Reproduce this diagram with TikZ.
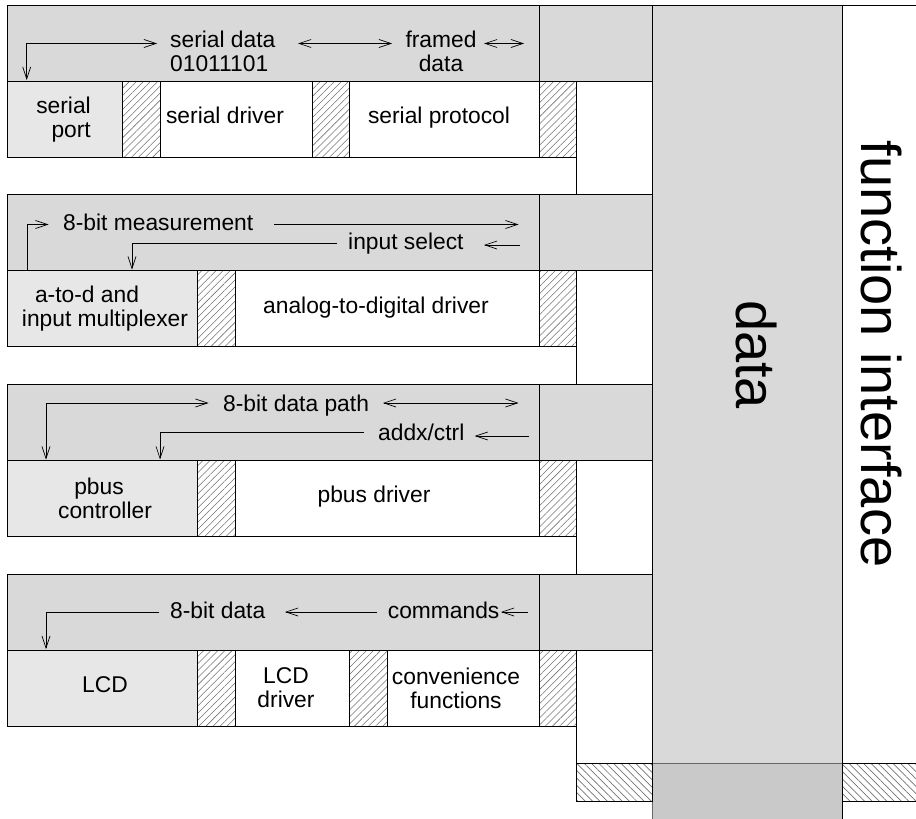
\documentclass[tikz,border=0pt]{standalone}
\usepackage{fontspec}
\setmainfont{Liberation Sans}
\usetikzlibrary{arrows.meta,patterns.meta}
\definecolor{hdr}{gray}{0.85}
\definecolor{lbox}{gray}{0.905}
\definecolor{dark}{gray}{0.79}
\definecolor{hatchc}{gray}{0.45}
\tikzset{
  nw/.style={inner sep=0pt, outer sep=0pt, anchor=north west, line width=0.8pt},
  hdrL/.style={nw, draw, fill=hdr, minimum height=76pt},
  lbox/.style={nw, draw, fill=lbox, minimum height=76pt},
  wbox/.style={nw, draw, fill=white, minimum height=76pt},
  hbox/.style={nw, draw, pattern={Lines[angle=45,distance=5pt,line width=0.55pt]}, pattern color=hatchc, minimum height=76pt},
  bighatch/.style={nw, draw, pattern={Lines[angle=-45,distance=5.2pt,line width=0.7pt]}, pattern color=hatchc, minimum height=38pt},
  lbl/.style={inner sep=0pt, font=\fontsize{22.8}{24}\selectfont},
  big/.style={inner sep=0pt, rotate=-90, anchor=base, font=\fontsize{56}{60}\selectfont},
  conn/.style={line width=0.7pt, -{Straight Barb[length=12pt,width=8pt,line width=0.7pt]}},
  dconn/.style={line width=0.7pt, {Straight Barb[length=12pt,width=8pt,line width=0.7pt]}-{Straight Barb[length=12pt,width=8pt,line width=0.7pt]}},
}
\begin{document}
\begin{tikzpicture}[x=1pt,y=-1pt]
\useasboundingbox (0,0) rectangle (916,819);
% vertical line of the white column
\coordinate (v1) at (576,81);
\coordinate (v2) at (576,763);
\draw[line width=0.8pt] (v1) -- (v2);
% data column and function interface
\node[nw, draw, fill=hdr, minimum width=190pt, minimum height=758pt] (dcol) at (652,5) {};
\node[nw, draw=black!60, fill=dark, minimum width=190pt, minimum height=70pt] (dlow) at (652,763) {};
\node[nw, draw, minimum width=100pt, minimum height=830pt] (fi) at (842,5) {};
\node[bighatch, minimum width=76pt] (hl) at (576,763) {};
\node[bighatch, minimum width=90pt] (hr) at (842,763) {};
\node[big] (dtxt) at (736,354.5) {data};
\node[big] (fitxt) at (861,354) {function interface};

% ---------- block 1 ----------
\node[hdrL, minimum width=532pt] (h1) at (7,5) {};
\node[hdrL, minimum width=113pt] (h1r) at (539,5) {};
\node[lbox, minimum width=115pt] (b1a) at (7,81) {};
\node[hbox, minimum width=38pt] (b1h1) at (122,81) {};
\node[wbox, minimum width=152pt] (b1b) at (160,81) {};
\node[hbox, minimum width=37pt] (b1h2) at (312,81) {};
\node[wbox, minimum width=190pt] (b1c) at (349,81) {};
\node[hbox, minimum width=37pt] (b1h3) at (539,81) {};
\node[lbl, align=right, anchor=east] (t1a) at (91,120) {serial\\port};
\node[lbl, anchor=mid] (t1b) at (225,121) {serial driver};
\node[lbl, anchor=mid] (t1c) at (439,121) {serial protocol};
\node[lbl, align=left, anchor=west] (l1a) at (170,51) {serial data\\01011101};
\node[lbl, align=center] (l1b) at (441,51) {framed\\data};
\coordinate (p1a) at (26.7,80);
\coordinate (p1b) at (157,43.5);
\coordinate (p1c) at (298,43.5);
\coordinate (p1d) at (392,43.5);
\coordinate (p1e) at (484,43.5);
\coordinate (p1f) at (524,43.5);
\draw[dconn] (p1a) |- (p1b);
\draw[dconn] (p1c) -- (p1d);
\draw[dconn] (p1e) -- (p1f);

% ---------- block 2 ----------
\node[hdrL, minimum width=532pt] (h2) at (7,194.6) {};
\node[hdrL, minimum width=113pt] (h2r) at (539,194.6) {};
\node[lbox, minimum width=190pt] (b2a) at (7,270.6) {};
\node[hbox, minimum width=38pt] (b2h1) at (197,270.6) {};
\node[wbox, minimum width=304pt] (b2b) at (235,270.6) {};
\node[hbox, minimum width=37pt] (b2h2) at (539,270.6) {};
\node[lbl, align=center] (t2a) at (105,309) {a-to-d and\hspace*{36pt}\\input multiplexer};
\node[lbl, anchor=mid] (t2b) at (376,310.6) {analog-to-digital driver};
\node[lbl, anchor=mid west] (l2a) at (63,228) {8-bit measurement};
\node[lbl, anchor=mid west] (l2b) at (348,247) {input select};
\coordinate (p2a) at (27,270.6);
\coordinate (p2b) at (48.6,224.5);
\coordinate (p2c) at (274,224.5);
\coordinate (p2d) at (518.6,224.5);
\coordinate (p2e) at (520,245);
\coordinate (p2f) at (484,245);
\coordinate (p2g) at (337,243.5);
\coordinate (p2h) at (132,269.6);
\draw[conn] (p2a) |- (p2b);
\draw[conn] (p2c) -- (p2d);
\draw[conn] (p2e) -- (p2f);
\draw[conn] (p2g) -| (p2h);

% ---------- block 3 ----------
\node[hdrL, minimum width=532pt] (h3) at (7,384.3) {};
\node[hdrL, minimum width=113pt] (h3r) at (539,384.3) {};
\node[lbox, minimum width=190pt] (b3a) at (7,460.3) {};
\node[hbox, minimum width=38pt] (b3h1) at (197,460.3) {};
\node[wbox, minimum width=304pt] (b3b) at (235,460.3) {};
\node[hbox, minimum width=37pt] (b3h2) at (539,460.3) {};
\node[lbl, align=center] (t3a) at (105,498.3) {pbus\hspace*{12pt}\\controller};
\node[lbl, anchor=mid] (t3b) at (374,500.3) {pbus driver};
\node[lbl, anchor=mid west] (l3a) at (223,409) {8-bit data path};
\node[lbl, anchor=mid west] (l3b) at (378,438) {addx/ctrl};
\coordinate (p3a) at (46,459.5);
\coordinate (p3b) at (208.6,403);
\coordinate (p3c) at (383,403);
\coordinate (p3d) at (518.6,403);
\coordinate (p3e) at (529,436);
\coordinate (p3f) at (474.6,436);
\coordinate (p3g) at (363.6,432.5);
\coordinate (p3h) at (160,459.5);
\draw[dconn] (p3a) |- (p3b);
\draw[dconn] (p3c) -- (p3d);
\draw[conn] (p3e) -- (p3f);
\draw[conn] (p3g) -| (p3h);

% ---------- block 4 ----------
\node[hdrL, minimum width=532pt] (h4) at (7,574) {};
\node[hdrL, minimum width=113pt] (h4r) at (539,574) {};
\node[lbox, minimum width=190pt] (b4a) at (7,650) {};
\node[hbox, minimum width=38pt] (b4h1) at (197,650) {};
\node[wbox, minimum width=114pt] (b4b) at (235,650) {};
\node[hbox, minimum width=38pt] (b4h2) at (349,650) {};
\node[wbox, minimum width=152pt] (b4c) at (387,650) {};
\node[hbox, minimum width=37pt] (b4h3) at (539,650) {};
\node[lbl, anchor=mid] (t4a) at (105,690) {LCD};
\node[lbl, align=center] (t4b) at (286,688) {LCD\\driver};
\node[lbl, align=center] (t4c) at (456,688) {convenience\\functions};
\node[lbl, anchor=mid west] (l4a) at (170,616) {8-bit data};
\node[lbl, anchor=mid west] (l4b) at (387.7,616) {commands};
\coordinate (p4a) at (158.8,612);
\coordinate (p4b) at (46,649);
\coordinate (p4c) at (377,612);
\coordinate (p4d) at (285,612);
\coordinate (p4e) at (528,612);
\coordinate (p4f) at (501,612);
\draw[conn] (p4a) -| (p4b);
\draw[conn] (p4c) -- (p4d);
\draw[conn] (p4e) -- (p4f);
\end{tikzpicture}
\end{document}
